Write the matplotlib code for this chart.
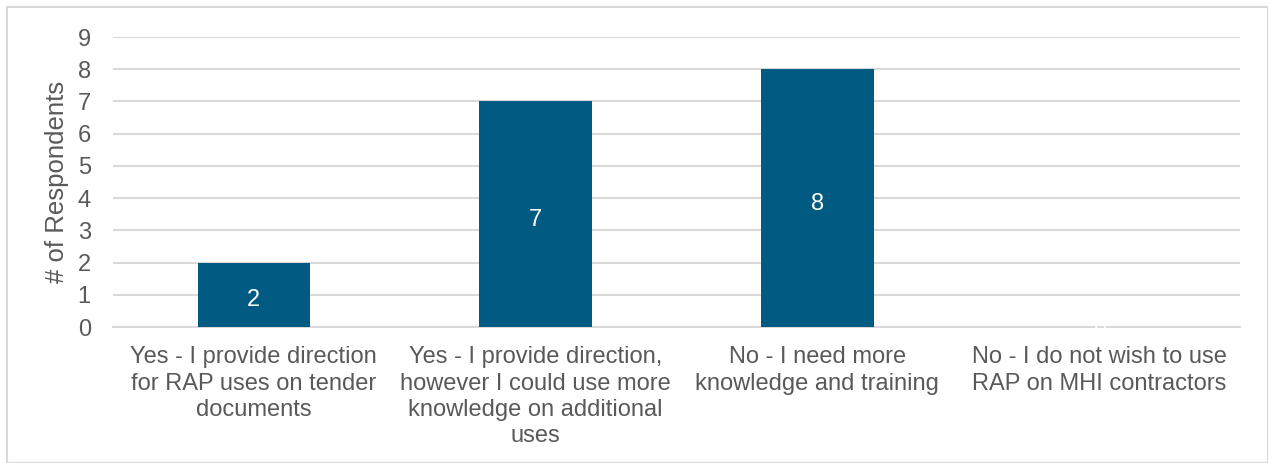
import matplotlib.pyplot as plt
import matplotlib.patches as patches

plt.rcParams['font.family'] = ['Liberation Sans', 'DejaVu Sans']

categories = [
    "Yes - I provide direction\nfor RAP uses on tender\ndocuments",
    "Yes - I provide direction,\nhowever I could use more\nknowledge on additional\nuses",
    "No - I need more\nknowledge and training",
    "No - I do not wish to use\nRAP on MHI contractors",
]
respondents = [2, 7, 8, 0]

bar_color = '#005a82'
text_color = '#595959'
grid_color = '#d9d9d9'

fig = plt.figure(figsize=(12.68, 4.63), dpi=100)
ax = fig.add_axes([0.0891, 0.2937, 0.8889, 0.6263])

x = range(len(categories))
bars = ax.bar(x, respondents, width=0.4, color=bar_color, zorder=3)
ax.bar_label(bars, label_type='center', color='white', fontsize=17, padding=-4)

ax.set_xlim(-0.5, len(categories) - 0.5)
ax.set_ylim(0, 9)
ax.set_yticks(range(10))
ax.set_xticks(list(x))
ax.set_xticklabels(categories, fontsize=17, color=text_color, linespacing=1.24)
ax.tick_params(axis='y', labelsize=17, labelcolor=text_color, length=0, pad=16)
ax.tick_params(axis='x', length=0, pad=14)
ax.set_ylabel('# of Respondents', fontsize=18.5, color=text_color, labelpad=6)

ax.grid(axis='y', color=grid_color, linewidth=1.5, zorder=0)
for side in ['top', 'right', 'left']:
    ax.spines[side].set_visible(False)
ax.spines['bottom'].set_color(grid_color)
ax.spines['bottom'].set_linewidth(1.5)

# light frame around the chart area
fig.patches.append(patches.Rectangle((7 / 1268, 0), 1 - 7 / 1268, 1 - 7 / 463,
                                     transform=fig.transFigure, fill=False,
                                     edgecolor='#d9d9d9', linewidth=1.5))

fig.savefig('out.png', dpi=100)
